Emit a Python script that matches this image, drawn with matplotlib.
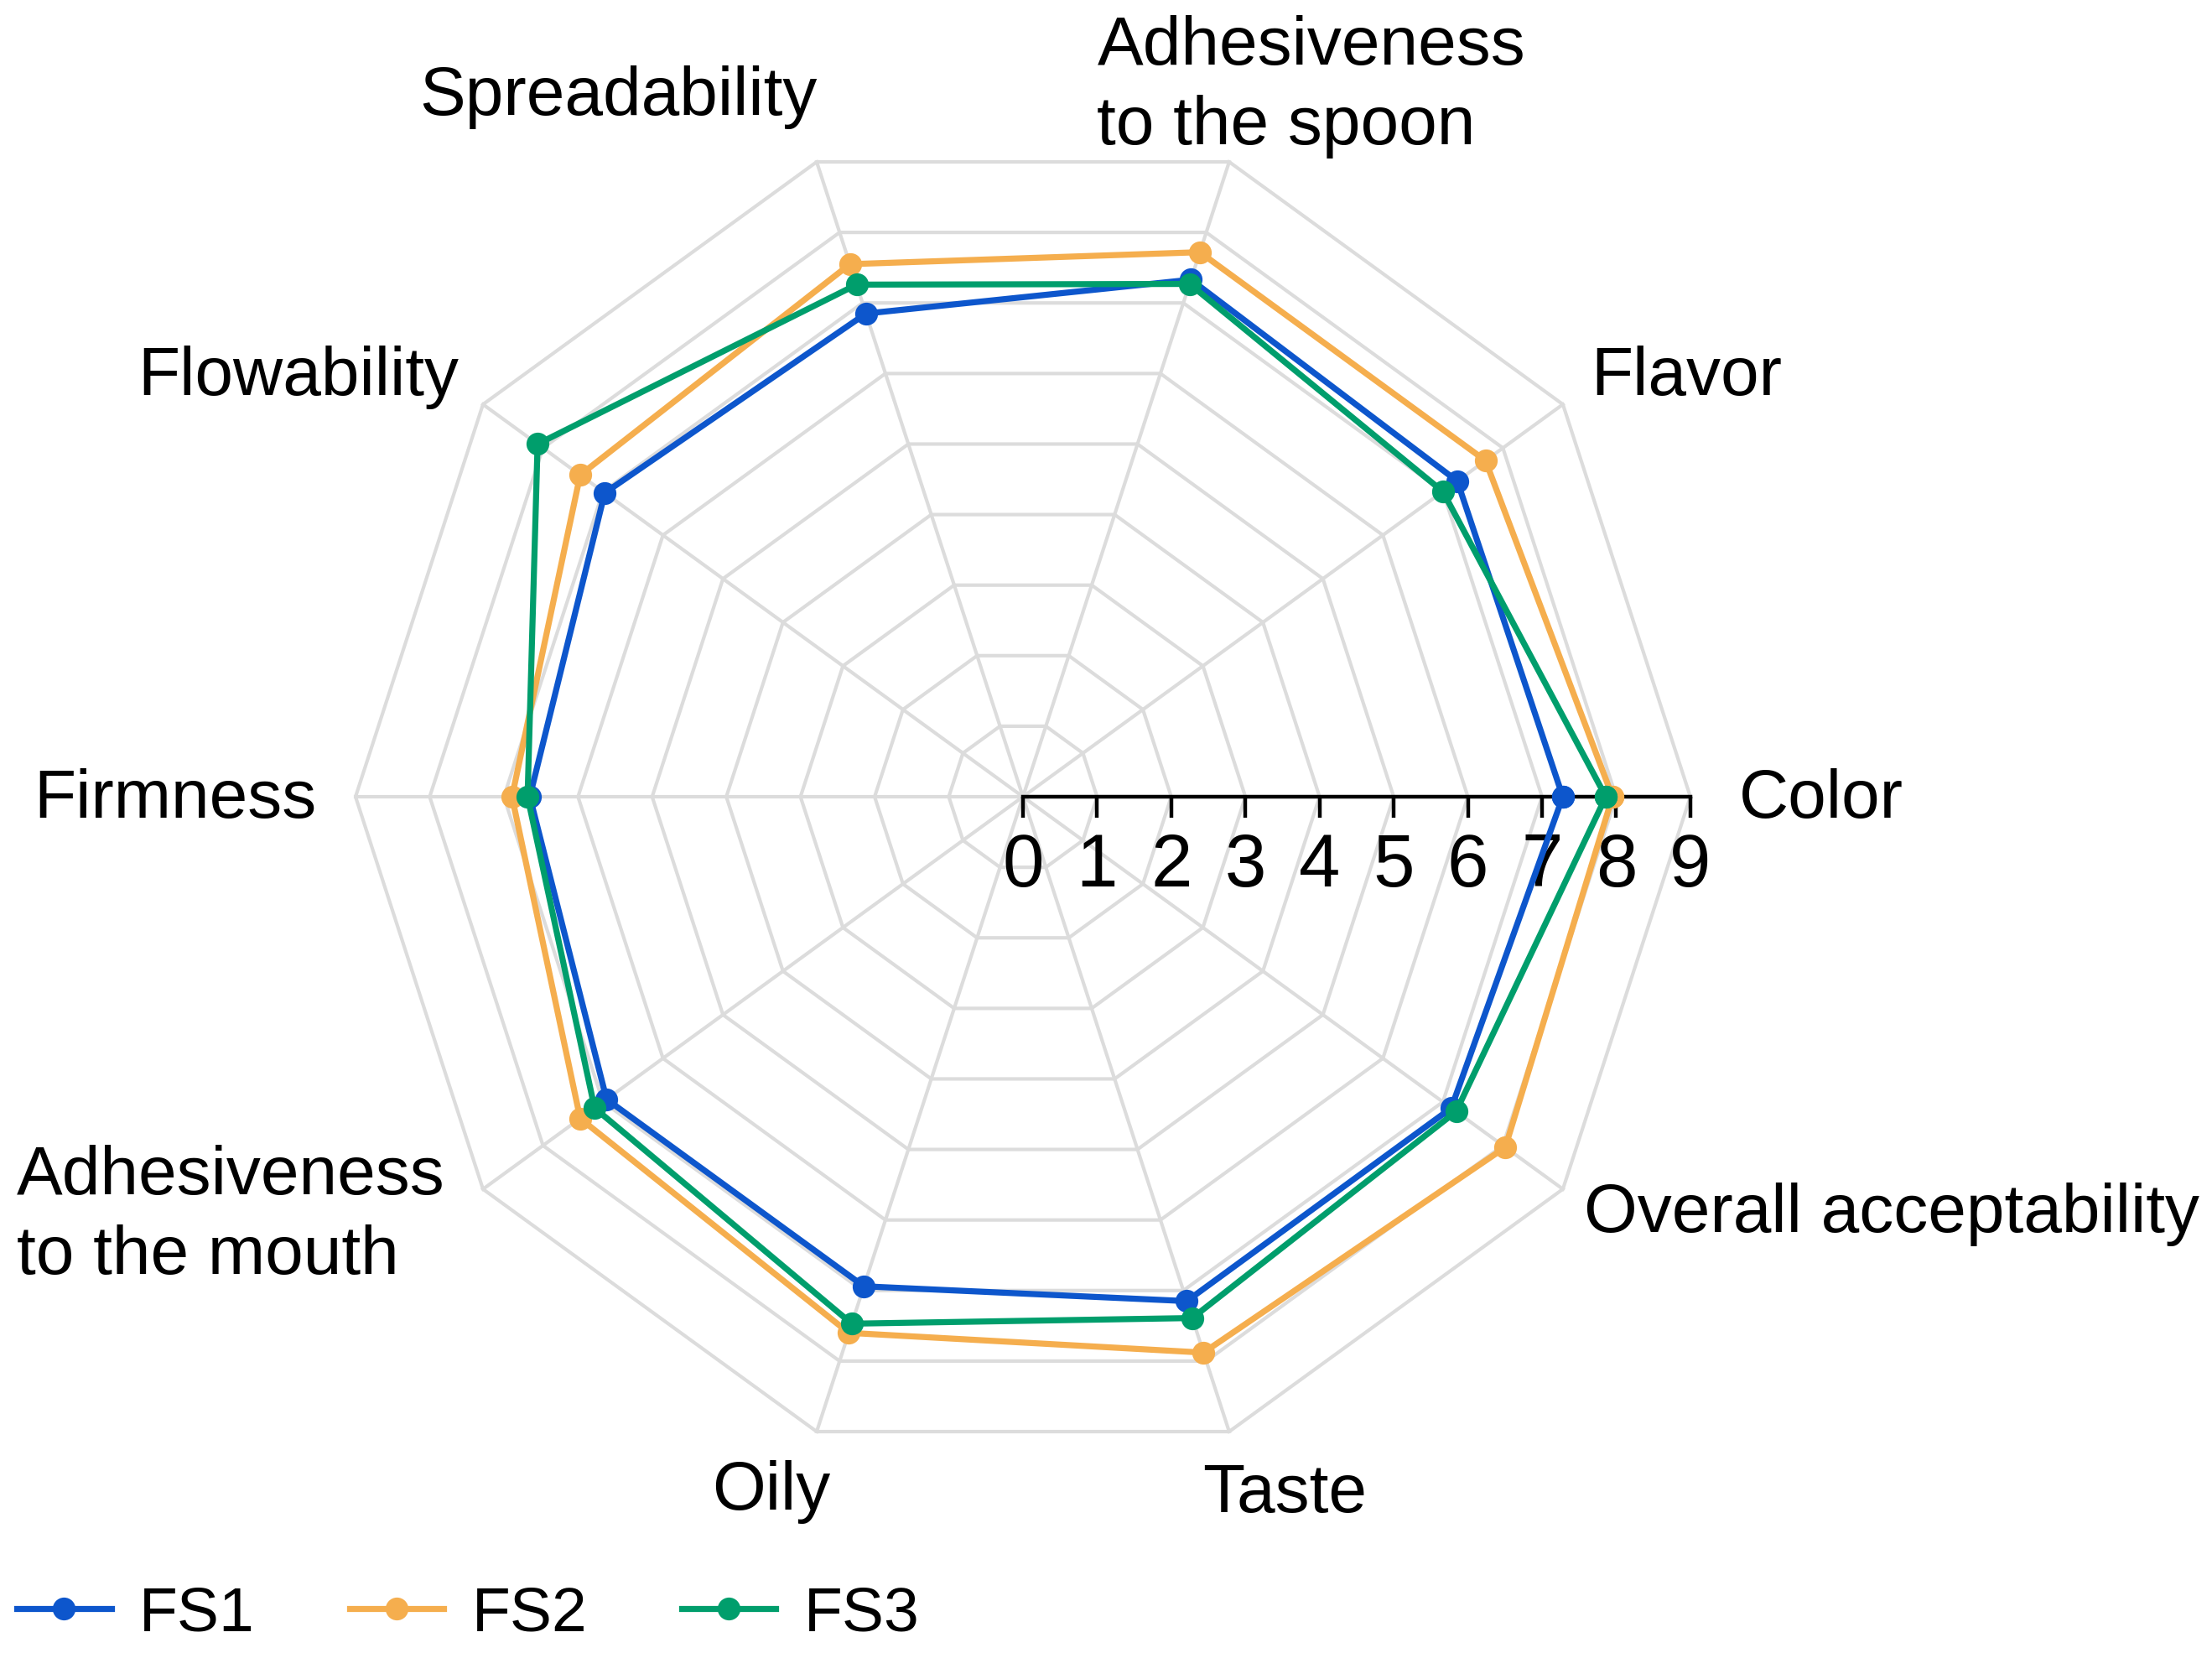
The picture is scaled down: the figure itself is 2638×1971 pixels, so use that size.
import numpy as np
import matplotlib
matplotlib.use("Agg")
import matplotlib.pyplot as plt

# attributes, counter-clockwise starting from the right
categories = ["Color", "Flavor", "Adhesiveness\nto the spoon", "Spreadability",
              "Flowability", "Firmness", "Adhesiveness\nto the mouth", "Oily",
              "Taste", "Overall acceptability"]

series_names = ["FS1", "FS2", "FS3"]
fs1 = [7.28, 7.24, 7.33, 6.85, 6.97, 6.65, 6.94, 6.94, 7.15, 7.14]
fs2 = [7.95, 7.71, 7.72, 7.55, 7.38, 6.89, 7.38, 7.60, 7.88, 8.04]
fs3 = [7.86, 7.00, 7.27, 7.26, 8.09, 6.68, 7.14, 7.47, 7.39, 7.22]

radial_ticks = [0, 1, 2, 3, 4, 5, 6, 7, 8, 9]

colors = ["#0d56cc", "#f5ae4e", "#009e6c"]
grid_color = "#dcdcdc"

# where each category label sits (data units) and how it is aligned
label_layout = [
    (9.65, -0.05, "left"),
    (7.66, 5.65, "left"),
    (1.00, 9.57, "left"),
    (-5.46, 9.43, "center"),
    (-7.61, 5.65, "right"),
    (-9.53, -0.05, "right"),
    (-13.57, -5.66, "left"),
    (-3.39, -9.37, "center"),
    (3.53, -9.41, "center"),
    (7.56, -5.63, "left"),
]

plt.rcParams["font.family"] = ["Liberation Sans", "DejaVu Sans"]

fig = plt.figure(figsize=(13.19, 9.855), dpi=200)
ax = fig.add_axes([0.1272, 0.0693, 0.6705, 0.8974])
ax.set_xlim(-10, 10)
ax.set_ylim(-10, 10)

n = len(categories)
angles = np.deg2rad(np.arange(n) * 360.0 / n)
ring_angles = np.append(angles, angles[0])

# decagon grid
for r in radial_ticks[1:]:
    ax.plot(r * np.cos(ring_angles), r * np.sin(ring_angles),
            color=grid_color, lw=1.5, zorder=1)
for a in angles:
    ax.plot([0, radial_ticks[-1] * np.cos(a)], [0, radial_ticks[-1] * np.sin(a)],
            color=grid_color, lw=1.5, zorder=1)

# series
for name, vals, col in zip(series_names, [fs1, fs2, fs3], colors):
    v = np.append(vals, vals[0])
    ax.plot(v * np.cos(ring_angles), v * np.sin(ring_angles), color=col, lw=2.6,
            marker="o", markersize=8.8, label=name, zorder=4)

# radial axis along the Color spoke
for side in ["top", "left", "right"]:
    ax.spines[side].set_visible(False)
ax.spines["bottom"].set_position(("data", 0))
ax.spines["bottom"].set_bounds(0, 9)
ax.spines["bottom"].set_linewidth(1.6)
ax.spines["bottom"].set_zorder(3)
ax.set_xticks(radial_ticks)
ax.set_xticklabels([str(t) for t in radial_ticks])
ax.set_yticks([])
ax.tick_params(axis="x", direction="out", length=9, width=1.6, pad=6,
               labelsize=32)

for text, (x, y, ha) in zip(categories, label_layout):
    ax.text(x, y, text, ha=ha, va="center", fontsize=29.5, linespacing=1.32)

fig.legend(loc="center left", bbox_to_anchor=(20 / 2638, 46 / 1971), ncol=3,
           frameon=False, fontsize=27, borderpad=0, borderaxespad=0,
           handlelength=1.5, handletextpad=0.45, columnspacing=1.5)

fig.savefig("out.png", dpi=200, facecolor="white")
